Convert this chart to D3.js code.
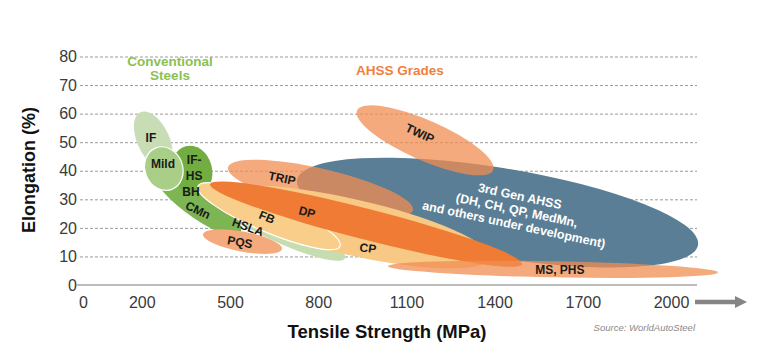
<!DOCTYPE html>
<html>
<head>
<meta charset="utf-8">
<script src="https://cdn.jsdelivr.net/npm/d3@7"></script>
<style>
  body { margin: 0; background: #fff; }
  svg { font-family: "Liberation Sans", Arial, sans-serif; }
</style>
</head>
<body>
<div id="chart"></div>
<script>
// steel grade families, drawn in this order (back to front)
const grades = ['HSLA', 'CMn', 'IF', 'IF-HS', 'Mild', '3rd Gen AHSS', 'TWIP', 'TRIP', 'CP', 'FB', 'DP', 'MS, PHS', 'PQS'];
// each band is an ellipse: major axis from (tsStart, elStart) to (tsEnd, elEnd), half-width elSpread (% elongation)
const tsStart  = [415, 228, 195, 349, 248, 728, 932, 493, 432, 391, 432, 1037, 408];
const elStart  = [32.5, 42.6, 60.5, 48.6, 48.0, 36.7, 61.1, 41.2, 31.4, 34.6, 35.3, 6.6, 17.8];
const tsEnd    = [891, 534, 283, 393, 302, 2092, 1395, 1122, 1384, 874, 1493, 2160, 677];
const elEnd    = [9.4, 18.2, 41, 31.7, 33.5, 14.0, 40.2, 26.2, 9.4, 13.6, 7.3, 4.4, 12.6];
const elSpread = [5.2, 5.9, 5.6, 7.0, 6.6, 15.7, 7.0, 7.0, 9.8, 5.6, 5.4, 2.8, 3.5];

// label text and where it sits (MPa, %)
const labelText = ['HSLA', 'CMn', 'IF', 'IF-\nHS', 'Mild', '3rd Gen AHSS\n(DH, CH, QP, MedMn,\nand others under development)',
                   'TWIP', 'TRIP', 'CP', 'FB', 'DP', 'MS, PHS', 'PQS'];
const labelTs  = [561, 391, 231, 378, 272, 1476, 1146, 677, 969, 626, 762, 1622, 534];
const labelEl  = [20.3, 26.2, 51.7, 40.9, 42.3, 26.2, 53.1, 37.4, 12.9, 23.8, 25.5, 5.2, 15.0];
const bhLabel  = {text: 'BH', ts: 367, el: 32.5};

const xTicks = [0, 200, 500, 800, 1100, 1400, 1700, 2000];
const yTicks = [0, 10, 20, 30, 40, 50, 60, 70, 80];

// styles
const fills = {
  'HSLA': '#c6ddb1', 'CMn': '#7db553', 'IF': '#c8dcb5', 'Mild': '#a9ce88', 'IF-HS': '#71ad41',
  '3rd Gen AHSS': '#5a7e95', 'TWIP': '#f08e52', 'TRIP': '#f08e52', 'CP': '#f7c985', 'FB': '#f9cd8a',
  'DP': '#ef7b35', 'MS, PHS': '#f08e52', 'PQS': '#f4aa7d'
};
const opac = {'TWIP': 0.75, 'TRIP': 0.75, 'MS, PHS': 0.75};
const outlined = {'Mild': true, 'FB': true};
const labelRot = [20, 25, 0, 0, 0, 12, 25, 12, 8, 22, 15, 0, 10];

const W = 760, H = 361;
const x = d3.scaleLinear().domain([0, 2000]).range([83, 671]);
const y = d3.scaleLinear().domain([0, 80]).range([285, 56.5]);
const gridRight = 697;

const svg = d3.select('#chart').append('svg')
  .attr('width', W)
  .attr('height', H);

// grid + y axis
const yaxis = d3.axisLeft(y).tickValues(yTicks).tickSize(-(gridRight - 80)).tickPadding(3);
const gy = svg.append('g')
  .attr('transform', 'translate(80,0)')
  .call(yaxis);
gy.select('.domain').remove();
gy.selectAll('line')
  .attr('stroke', '#9a9a9a')
  .attr('stroke-dasharray', '3,2')
  .attr('stroke-width', 1);
gy.selectAll('.tick').filter(d => d === 0).select('line').remove();
gy.selectAll('text')
  .attr('font-size', 16)
  .attr('fill', '#3a3a3a')
  .attr('font-family', '"Liberation Sans", Arial, sans-serif');

// ellipses
const bands = svg.append('g');
grades.forEach((g, i) => {
  const x1 = x(tsStart[i]), y1 = y(elStart[i]);
  const x2 = x(tsEnd[i]), y2 = y(elEnd[i]);
  const cx = (x1 + x2) / 2, cy = (y1 + y2) / 2;
  const a = Math.hypot(x2 - x1, y2 - y1) / 2;
  const b = y(0) - y(elSpread[i]);
  const ang = Math.atan2(y2 - y1, x2 - x1) * 180 / Math.PI;
  bands.append('ellipse')
    .attr('transform', 'translate(' + cx + ',' + cy + ') rotate(' + ang + ')')
    .attr('rx', a)
    .attr('ry', b)
    .attr('fill', fills[g])
    .attr('fill-opacity', opac[g] || 1)
    .attr('stroke', outlined[g] ? '#ffffff' : 'none')
    .attr('stroke-width', outlined[g] ? 1.2 : 0);
});

// x axis line
svg.append('line')
  .attr('x1', 76).attr('x2', gridRight)
  .attr('y1', y(0)).attr('y2', y(0))
  .attr('stroke', '#a6a6a6')
  .attr('stroke-width', 1.5);

const xaxis = d3.axisBottom(x).tickValues(xTicks).tickSize(0).tickPadding(11.5).tickFormat(d3.format('d'));
const gx = svg.append('g')
  .attr('transform', 'translate(0,' + y(0) + ')')
  .call(xaxis);
gx.select('.domain').remove();
gx.selectAll('text')
  .attr('font-size', 16)
  .attr('fill', '#3a3a3a')
  .attr('font-family', '"Liberation Sans", Arial, sans-serif');

// arrow after 2000
const ax0 = x.range()[1] + 24;
svg.append('line')
  .attr('x1', ax0).attr('x2', ax0 + 42)
  .attr('y1', 302).attr('y2', 302)
  .attr('stroke', '#858585')
  .attr('stroke-width', 4.5);
svg.append('path')
  .attr('d', 'M' + (ax0 + 40) + ',296 L' + (ax0 + 52) + ',302 L' + (ax0 + 40) + ',308 Z')
  .attr('fill', '#858585');

// band labels
const labels = svg.append('g')
  .attr('font-weight', 'bold')
  .attr('text-anchor', 'middle');
grades.forEach((g, i) => {
  const lines = labelText[i].split('\n');
  const big = g === '3rd Gen AHSS';
  const lh = big ? 14.5 : 16;
  const t = labels.append('text')
    .attr('transform', 'translate(' + x(labelTs[i]) + ',' + y(labelEl[i]) + ') rotate(' + labelRot[i] + ')')
    .attr('font-size', big ? 12.5 : 12)
    .attr('fill', big ? '#ffffff' : '#1a1a1a');
  lines.forEach((ln, k) => {
    t.append('tspan')
      .attr('x', 0)
      .attr('y', (k - (lines.length - 1) / 2) * lh)
      .attr('dy', '0.35em')
      .text(ln);
  });
});
labels.append('text')
  .attr('x', x(bhLabel.ts))
  .attr('y', y(bhLabel.el))
  .attr('dy', '0.35em')
  .attr('font-size', 12)
  .attr('fill', '#1a1a1a')
  .text(bhLabel.text);

// group headings
svg.append('text')
  .attr('x', 170).attr('y', 66)
  .attr('text-anchor', 'middle')
  .attr('font-weight', 'bold')
  .attr('font-size', 13.5)
  .attr('fill', '#8dc050')
  .selectAll('tspan')
  .data(['Conventional', 'Steels'])
  .join('tspan')
  .attr('x', 170)
  .attr('dy', (d, i) => i ? 14 : 0)
  .text(d => d);

svg.append('text')
  .attr('x', 400).attr('y', 74.5)
  .attr('text-anchor', 'middle')
  .attr('font-weight', 'bold')
  .attr('font-size', 13.5)
  .attr('fill', '#f0803c')
  .text('AHSS Grades');

// axis titles
svg.append('text')
  .attr('transform', 'translate(35,170) rotate(-90)')
  .attr('text-anchor', 'middle')
  .attr('font-weight', 'bold')
  .attr('font-size', 18)
  .attr('fill', '#111')
  .text('Elongation (%)');

svg.append('text')
  .attr('x', 387).attr('y', 337.5)
  .attr('text-anchor', 'middle')
  .attr('font-weight', 'bold')
  .attr('font-size', 18.5)
  .attr('fill', '#111')
  .text('Tensile Strength (MPa)');

svg.append('text')
  .attr('x', 695).attr('y', 331)
  .attr('text-anchor', 'end')
  .attr('font-style', 'italic')
  .attr('font-size', 9.5)
  .attr('fill', '#8a8a8a')
  .text('Source: WorldAutoSteel');
</script>
</body>
</html>
